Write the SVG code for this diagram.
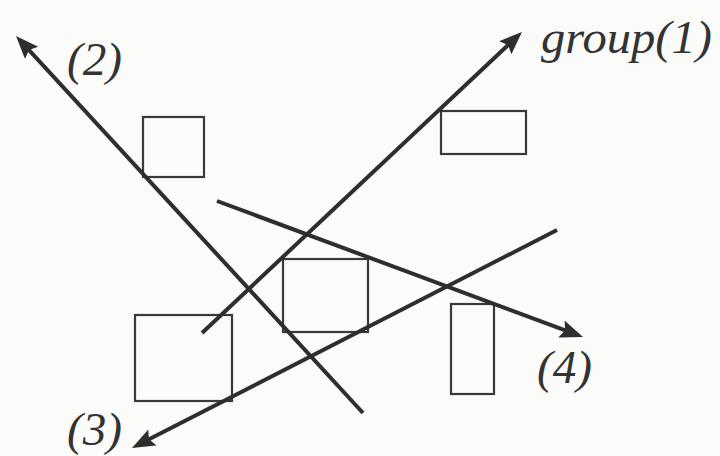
<svg xmlns="http://www.w3.org/2000/svg" width="720" height="456" viewBox="0 0 720 456">
<style>
.bg{fill:#fbfbfa}
.box{fill:none;stroke:#3a3a3a;stroke-width:2.2}
.ln{stroke:#2e2e2e;stroke-width:4;fill:none}
.lbl{font-style:italic;font-size:46px;fill:#333333}
</style>
<defs>
<marker id="ah" markerUnits="userSpaceOnUse" markerWidth="26" markerHeight="20" refX="17" refY="9" orient="auto">
<path d="M0,0 L23,9 L0,18 L4,9 z" fill="#2e2e2e"/>
</marker>
</defs>
<rect class="bg" x="0" y="0" width="720" height="456"/>
<g id="box1"><rect class="box" x="143" y="117" width="61" height="60"/></g>
<g id="box2"><rect class="box" x="441" y="111" width="85" height="43"/></g>
<g id="box3"><rect class="box" x="283" y="259" width="85" height="73"/></g>
<g id="box4"><rect class="box" x="135" y="315" width="97" height="86"/></g>
<g id="box5"><rect class="box" x="451" y="304" width="43" height="90"/></g>
<g id="connectors">
<line class="ln" x1="202" y1="333" x2="517.6" y2="36.1" marker-end="url(#ah)"/>
<line class="ln" x1="363" y1="413" x2="20.1" y2="40.4" marker-end="url(#ah)"/>
<line class="ln" x1="557" y1="230" x2="137.3" y2="445.3" marker-end="url(#ah)"/>
<line class="ln" x1="217" y1="201" x2="577.4" y2="334.9" marker-end="url(#ah)"/>
</g>
<g id="labels" font-family="Liberation Serif, Times New Roman, serif">
<text class="lbl" x="541" y="53" textLength="171" lengthAdjust="spacingAndGlyphs">group(1)</text>
<text class="lbl" x="67" y="75" textLength="55" lengthAdjust="spacingAndGlyphs">(2)</text>
<text class="lbl" x="67" y="445" textLength="55" lengthAdjust="spacingAndGlyphs">(3)</text>
<text class="lbl" x="537" y="383" textLength="55" lengthAdjust="spacingAndGlyphs">(4)</text>
</g>
</svg>
